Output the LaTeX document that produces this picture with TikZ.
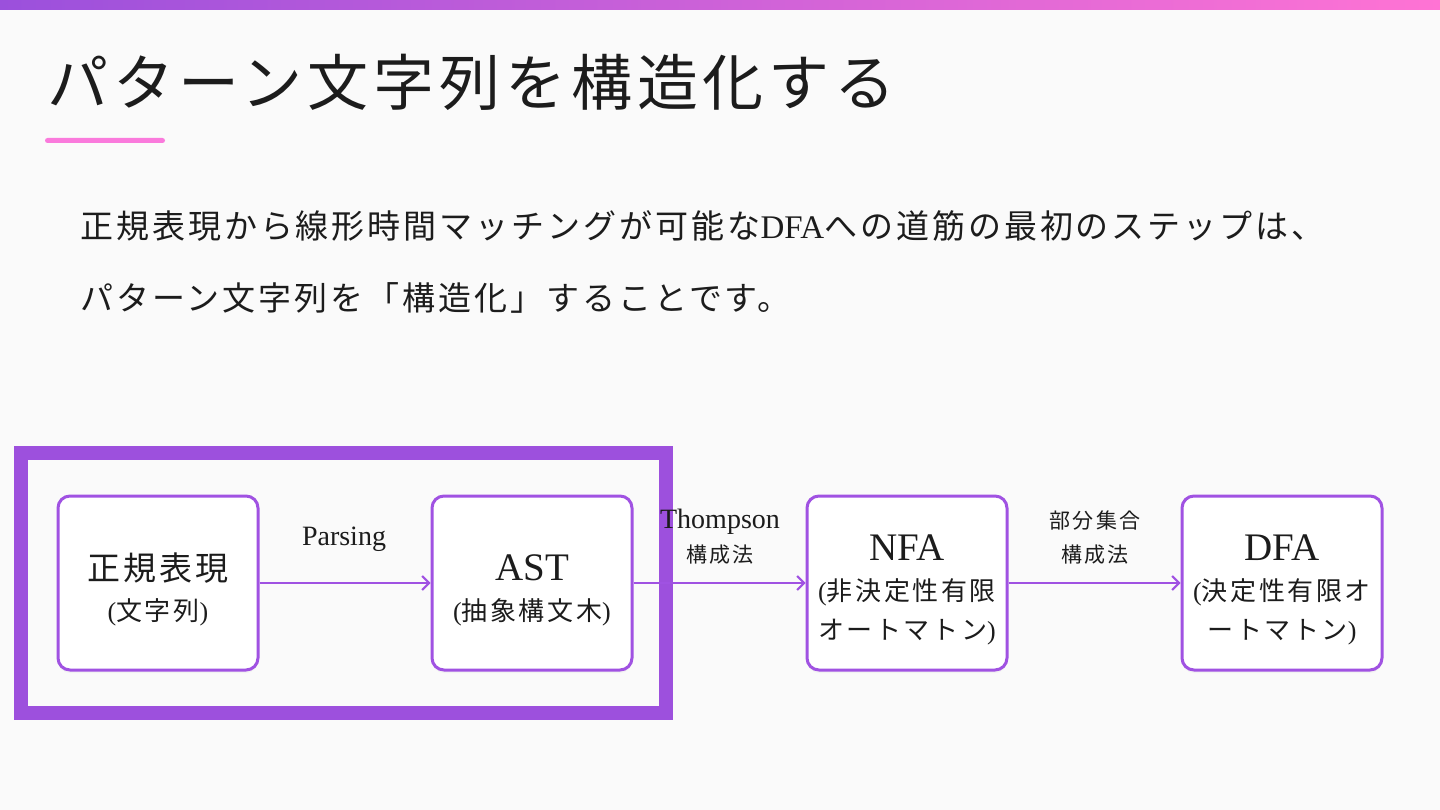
\documentclass[tikz,border=0pt]{standalone}
\usepackage{fontspec}
\setmainfont{Liberation Serif}
\newfontfamily\jp{Noto Sans CJK JP}
\newfontfamily\jpT{Noto Sans CJK JP}[LetterSpace=8]
\newfontfamily\jpB{Noto Sans CJK JP}[LetterSpace=9]
\newfontfamily\jpS{Noto Sans CJK JP}[LetterSpace=10]
\usetikzlibrary{arrows.meta,shadows}
\definecolor{bgc}{RGB}{250,250,250}
\definecolor{barL}{RGB}{155,80,220}
\definecolor{barR}{RGB}{255,115,212}
\definecolor{pinkc}{RGB}{250,122,220}
\definecolor{framec}{RGB}{157,80,221}
\definecolor{boxc}{RGB}{160,82,226}
\definecolor{txt}{RGB}{28,28,28}
\tikzset{
  box/.style={draw=boxc, line width=3pt, fill=white, rounded corners=12pt,
    minimum width=200pt, minimum height=174pt, inner sep=0pt,
    drop shadow={opacity=0.06, shadow xshift=0pt, shadow yshift=-3pt}},
  arr/.style={draw=boxc, line width=2pt, -{Straight Barb[length=7pt,width=14pt,line width=2pt]}},
  lbl/.style={text=txt, inner sep=0pt, anchor=base},
}
\begin{document}
\begin{tikzpicture}[x=1pt,y=-1pt]
\useasboundingbox (0,0) rectangle (1440,810);
\fill[bgc] (0,0) rectangle (1440,810);
\fill[left color=barL, right color=barR] (0,0) rectangle (1440,10);
% title
\node[lbl, anchor=base west] (title) at (47,106) {\fontsize{61}{72}\selectfont\jpT パターン文字列を構造化する};
\fill[pinkc, rounded corners=2.5pt] (45,138) rectangle (165,143);
% body
\node[lbl, anchor=base west] (line1) at (80,239) {\fontsize{33}{40}\selectfont{\jpB 正規表現から線形時間マッチングが可能な}DFA{\jpB への道筋の最初のステップは、}};
\node[lbl, anchor=base west] (line2) at (80,310) {\fontsize{33}{40}\selectfont\jpB パターン文字列を「構造化」することです。};
% frame
\node[draw=framec, line width=14pt, minimum width=645pt, minimum height=260pt, inner sep=0pt] (frame) at (343.5,583) {};
% boxes
\node[box] (re)  at (158,583) {};
\node[box] (ast) at (532,583) {};
\node[box] (nfa) at (907,583) {};
\node[box] (dfa) at (1282,583) {};
% arrows
\draw[arr] (re.east) -- (ast.west);
\draw[arr] (ast.east) -- (nfa.west);
\draw[arr] (nfa.east) -- (dfa.west);
% box texts
\node[lbl] (reA) at (158,580) {\fontsize{33}{38}\selectfont\jpS 正規表現};
\node[lbl] (reB) at (158,620) {\fontsize{26}{30}\selectfont(\jpS 文字列\rmfamily)};
\node[lbl] (astA) at (532,580) {\fontsize{39}{44}\selectfont AST};
\node[lbl] (astB) at (532,620) {\fontsize{26}{30}\selectfont(\jpS 抽象構文木\rmfamily)};
\node[lbl] (nfaA) at (907,560) {\fontsize{39}{44}\selectfont NFA};
\node[lbl] (nfaB) at (907,600) {\fontsize{26}{30}\selectfont(\jpS 非決定性有限};
\node[lbl] (nfaC) at (907,639) {\fontsize{26}{30}\selectfont{\jpS オートマトン}\rmfamily)};
\node[lbl] (dfaA) at (1282,560) {\fontsize{39}{44}\selectfont DFA};
\node[lbl] (dfaB) at (1282,600) {\fontsize{26}{30}\selectfont(\jpS 決定性有限オ};
\node[lbl] (dfaC) at (1282,639) {\fontsize{26}{30}\selectfont{\jpS ートマトン}\rmfamily)};
% edge labels
\node[lbl] (pars) at (344,545) {\fontsize{28}{32}\selectfont Parsing};
\node[lbl] (thA) at (720,528) {\fontsize{28}{32}\selectfont Thompson};
\node[lbl] (thB) at (720,562) {\fontsize{21}{25}\selectfont\jpS 構成法};
\node[lbl] (psA) at (1095,528) {\fontsize{21}{25}\selectfont\jpS 部分集合};
\node[lbl] (psB) at (1095,562) {\fontsize{21}{25}\selectfont\jpS 構成法};
\end{tikzpicture}
\end{document}
